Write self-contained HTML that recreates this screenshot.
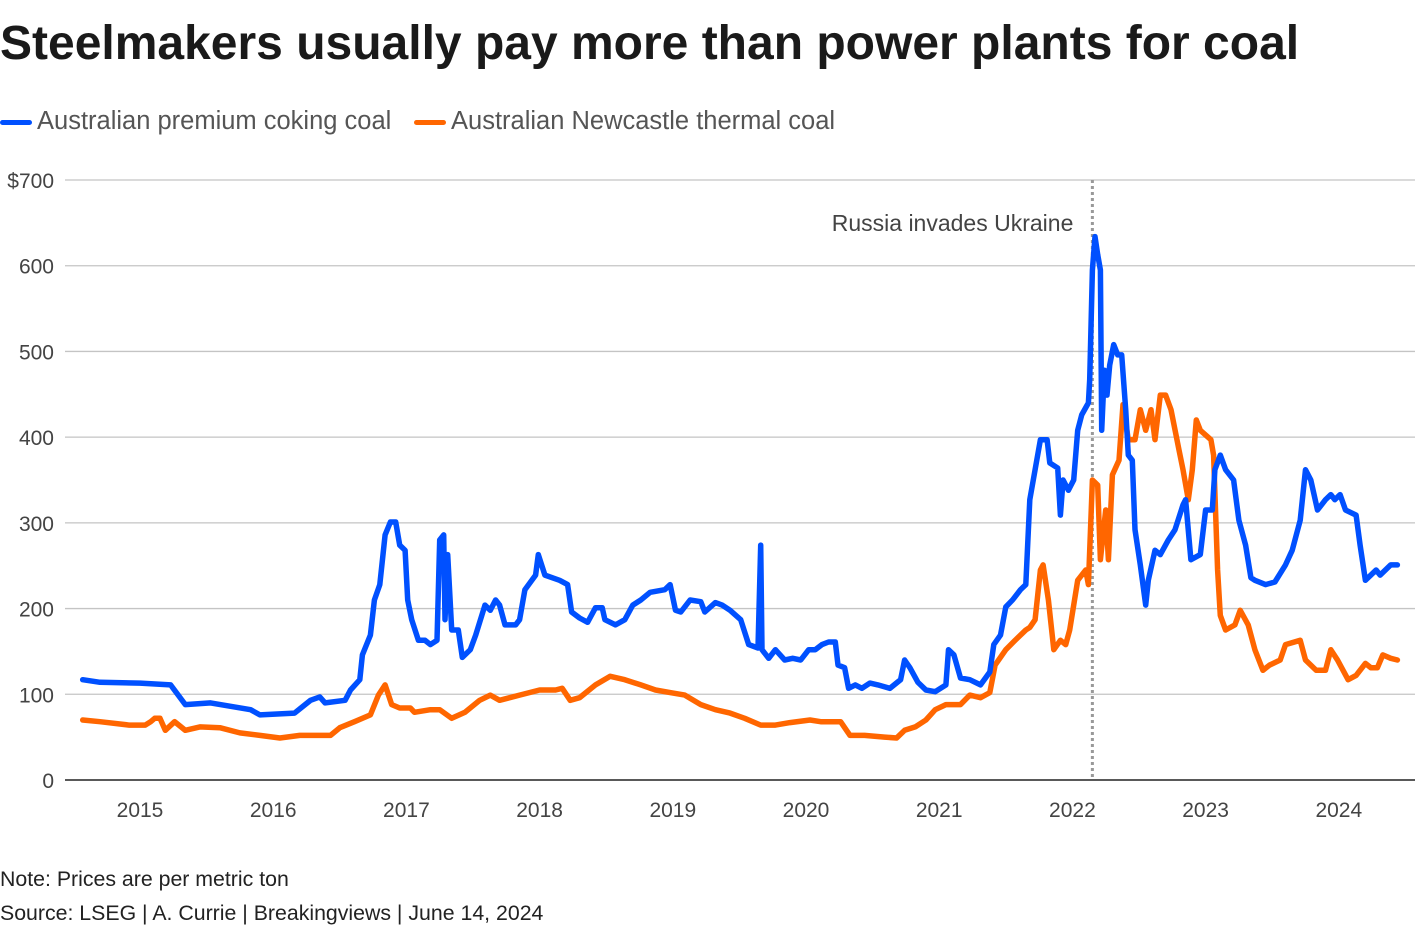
<!DOCTYPE html>
<html><head><meta charset="utf-8"><style>
body{margin:0;background:#fff;width:1420px;height:936px;overflow:hidden;font-family:"Liberation Sans",sans-serif;color:#222}
.t{position:absolute;left:0;top:16px;font-size:48px;font-weight:bold;letter-spacing:0px;color:#1a1a1a}
.lg{position:absolute;top:107px;font-size:25.5px;color:#555}
.sw{display:inline-block;width:32px;height:5px;border-radius:3px;vertical-align:middle;margin-right:5px}
.ft{position:absolute;left:0;font-size:21.3px;color:#222}
</style></head><body>
<div class="t">Steelmakers usually pay more than power plants for coal</div>
<div class="lg" style="left:0"><span class="sw" style="background:#0050ff"></span>Australian premium coking coal</div>
<div class="lg" style="left:414px"><span class="sw" style="background:#ff6600"></span>Australian Newcastle thermal coal</div>
<svg id="c" width="1420" height="936" style="position:absolute;left:0;top:0"></svg>
<div class="ft" style="top:867px">Note: Prices are per metric ton</div>
<div class="ft" style="top:901px">Source: LSEG | A. Currie | Breakingviews | June 14, 2024</div>
<script>
const yTicks=[0,100,200,300,400,500,600,700];
const yTickLabels=["0","100","200","300","400","500","600","$700"];
const xYears=[2015,2016,2017,2018,2019,2020,2021,2022,2023,2024];
const eventDate=2022.15;
const eventLabel="Russia invades Ukraine";
const cokingDates=[2014.57,2014.70,2015.00,2015.23,2015.34,2015.53,2015.83,2015.90,2016.16,2016.28,2016.35,2016.39,2016.54,2016.58,2016.65,2016.67,2016.73,2016.76,2016.80,2016.84,2016.88,2016.92,2016.95,2016.99,2017.01,2017.04,2017.09,2017.14,2017.18,2017.23,2017.25,2017.28,2017.29,2017.31,2017.34,2017.39,2017.42,2017.48,2017.52,2017.59,2017.63,2017.67,2017.70,2017.74,2017.82,2017.85,2017.89,2017.97,2017.99,2018.04,2018.15,2018.21,2018.24,2018.30,2018.36,2018.42,2018.47,2018.49,2018.57,2018.64,2018.70,2018.76,2018.83,2018.94,2018.98,2019.02,2019.06,2019.13,2019.21,2019.24,2019.32,2019.37,2019.43,2019.51,2019.57,2019.64,2019.66,2019.67,2019.72,2019.77,2019.84,2019.90,2019.96,2020.02,2020.07,2020.12,2020.17,2020.22,2020.24,2020.29,2020.32,2020.37,2020.42,2020.48,2020.54,2020.63,2020.71,2020.74,2020.78,2020.84,2020.90,2020.97,2021.05,2021.07,2021.11,2021.16,2021.23,2021.31,2021.38,2021.41,2021.46,2021.50,2021.55,2021.61,2021.65,2021.68,2021.72,2021.76,2021.81,2021.83,2021.89,2021.91,2021.93,2021.97,2022.01,2022.04,2022.07,2022.12,2022.13,2022.15,2022.17,2022.19,2022.21,2022.22,2022.24,2022.26,2022.28,2022.31,2022.34,2022.37,2022.40,2022.42,2022.45,2022.47,2022.51,2022.55,2022.57,2022.62,2022.66,2022.72,2022.77,2022.83,2022.85,2022.89,2022.96,2023.00,2023.05,2023.07,2023.11,2023.15,2023.21,2023.25,2023.30,2023.34,2023.37,2023.45,2023.52,2023.60,2023.65,2023.71,2023.75,2023.79,2023.84,2023.90,2023.94,2023.97,2024.01,2024.05,2024.13,2024.16,2024.20,2024.24,2024.28,2024.31,2024.35,2024.39,2024.44];
const cokingValues=[117,114,113,111,88,90,82,76,78,93,97,90,93,105,117,146,169,210,228,286,301,301,274,268,210,187,163,163,158,163,280,286,187,263,175,175,143,152,169,204,198,210,204,181,181,187,222,239,263,239,233,228,196,189,184,201,201,187,181,187,204,210,219,222,228,198,196,210,208,196,207,204,198,187,158,154,274,152,142,152,140,142,140,152,152,158,161,161,134,131,107,111,107,113,111,107,117,140,131,114,105,103,111,152,146,119,117,111,126,158,169,202,210,222,228,327,362,397,397,370,364,309,350,338,350,408,426,440,467,595,634,613,595,408,478,449,484,508,496,496,432,379,373,292,251,204,233,268,263,280,292,321,327,257,263,315,315,362,379,362,350,303,274,236,233,228,231,251,268,303,362,350,315,327,333,327,333,315,309,274,233,239,245,239,245,251,251];
const thermalDates=[2014.57,2014.70,2014.92,2015.04,2015.08,2015.11,2015.15,2015.19,2015.26,2015.34,2015.45,2015.60,2015.75,2015.90,2016.05,2016.20,2016.43,2016.50,2016.61,2016.73,2016.79,2016.84,2016.89,2016.95,2017.03,2017.06,2017.18,2017.25,2017.34,2017.44,2017.55,2017.63,2017.70,2017.85,2018.00,2018.12,2018.17,2018.23,2018.30,2018.42,2018.53,2018.64,2018.76,2018.87,2018.98,2019.09,2019.21,2019.32,2019.43,2019.54,2019.66,2019.77,2019.88,2020.03,2020.11,2020.26,2020.33,2020.44,2020.59,2020.68,2020.74,2020.82,2020.90,2020.97,2021.05,2021.16,2021.23,2021.31,2021.38,2021.42,2021.50,2021.57,2021.65,2021.68,2021.72,2021.76,2021.78,2021.82,2021.86,2021.91,2021.95,2021.98,2022.04,2022.10,2022.12,2022.15,2022.19,2022.21,2022.25,2022.27,2022.30,2022.35,2022.38,2022.42,2022.47,2022.51,2022.55,2022.59,2022.62,2022.66,2022.70,2022.74,2022.80,2022.83,2022.87,2022.90,2022.93,2022.96,2023.04,2023.06,2023.09,2023.11,2023.15,2023.22,2023.26,2023.32,2023.37,2023.43,2023.48,2023.56,2023.60,2023.71,2023.75,2023.83,2023.90,2023.94,2023.99,2024.07,2024.13,2024.20,2024.24,2024.29,2024.33,2024.39,2024.44];
const thermalValues=[70,68,64,64,68,72,72,58,68,58,62,61,55,52,49,52,52,61,68,76,99,111,88,84,84,79,82,82,72,79,93,99,93,99,105,105,107,93,96,111,121,117,111,105,102,99,88,82,78,72,64,64,67,70,68,68,52,52,50,49,58,62,70,82,88,88,99,96,102,134,152,163,175,178,187,245,251,210,152,163,158,175,233,245,228,350,344,257,315,257,356,373,438,397,397,432,408,432,397,449,449,432,385,362,327,362,420,408,397,379,245,192,175,181,198,181,152,128,134,140,158,163,140,128,128,152,140,117,122,136,131,131,146,142,140];

const NS="http://www.w3.org/2000/svg",svg=document.getElementById('c');
const X0=65,X1=1415,Y0=780,Y1=180;
const xs=d=>140+(d-2015)*133.2;
const ys=v=>Y0-(v-0)/700*(Y0-Y1);
function mk(tag,attrs,parent){const e=document.createElementNS(NS,tag);for(const k in attrs)e.setAttribute(k,attrs[k]);(parent||svg).appendChild(e);return e;}
yTicks.forEach((t,i)=>{
  const g=mk('line',{x1:X0,x2:X1,y1:ys(t),y2:ys(t),stroke:t===0?'#222':'#c4c4c4','stroke-width':t===0?1.5:1.3});
  
  
  const l=mk('text',{x:54,y:ys(t)+8,'text-anchor':'end','font-size':21,fill:'#444','font-family':'Liberation Sans, sans-serif'});
  l.textContent=yTickLabels[i];
  
  
});
xYears.forEach(y=>{
  const l=mk('text',{x:xs(y),y:817,'text-anchor':'middle','font-size':21,fill:'#444','font-family':'Liberation Sans, sans-serif'});
  l.textContent=String(y);
  
  
});
const ev=mk('line',{x1:xs(eventDate),x2:xs(eventDate),y1:180,y2:780,stroke:'#999','stroke-width':3,'stroke-dasharray':'3,3'});


const et=mk('text',{x:xs(eventDate)-19,y:231,'text-anchor':'end','font-size':23,fill:'#444','font-family':'Liberation Sans, sans-serif'});
et.textContent=eventLabel;


function line(dates,vals,color,name){
  const pts=dates.map((d,i)=>xs(d).toFixed(1)+','+ys(vals[i]).toFixed(1)).join(' ');
  const p=mk('polyline',{points:pts,fill:'none',stroke:color,'stroke-width':5.5,'stroke-linejoin':'round','stroke-linecap':'round'});
  
  
}
line(thermalDates,thermalValues,'#ff6600','thermal-coal-line');
line(cokingDates,cokingValues,'#0050ff','coking-coal-line');
</script>
</body></html>
